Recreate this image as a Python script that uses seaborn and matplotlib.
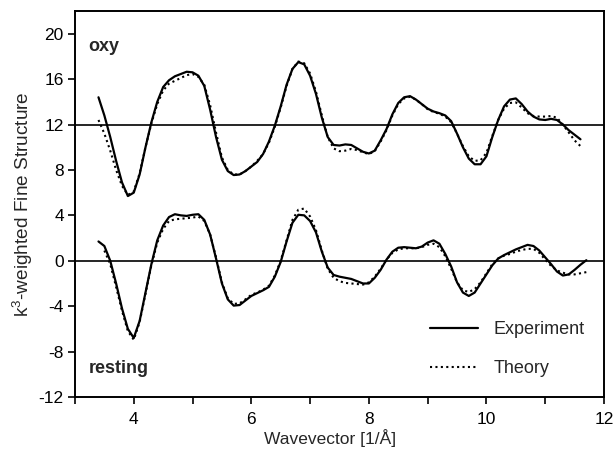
import numpy as np
import pandas as pd
import matplotlib
matplotlib.use("Agg")
import matplotlib.pyplot as plt
import seaborn as sns
from matplotlib.ticker import MultipleLocator

# Wavevector grid (1/Å)
k = [3.4, 3.5, 3.6, 3.7, 3.8, 3.9, 4.0, 4.1, 4.2, 4.3, 4.4, 4.5, 4.6, 4.7,
     4.8, 4.9, 5.0, 5.1, 5.2, 5.3, 5.4, 5.5, 5.6, 5.7, 5.8, 5.9, 6.0, 6.1,
     6.2, 6.3, 6.4, 6.5, 6.6, 6.7, 6.8, 6.9, 7.0, 7.1, 7.2, 7.3, 7.4, 7.5,
     7.6, 7.7, 7.8, 7.9, 8.0, 8.1, 8.2, 8.3, 8.4, 8.5, 8.6, 8.7, 8.8, 8.9,
     9.0, 9.1, 9.2, 9.3, 9.4, 9.5, 9.6, 9.7, 9.8, 9.9, 10.0, 10.1, 10.2,
     10.3, 10.4, 10.5, 10.6, 10.7, 10.8, 10.9, 11.0, 11.1, 11.2, 11.3, 11.4,
     11.5, 11.6, 11.7]

nan = np.nan

# k^3-weighted EXAFS, oxy form (before vertical shift)
oxy_experiment = [
    2.4, 0.8, -1.1, -3.2, -5.1, -6.3, -6.0, -4.4, -2.0, 0.2, 2.0, 3.3, 3.9, 4.25,
    4.45, 4.65, 4.6, 4.3, 3.4, 1.3, -1.1, -3.1, -4.1, -4.45, -4.4, -4.1, -3.7, -3.3,
    -2.6, -1.5, -0.1, 1.6, 3.5, 4.9, 5.5, 5.3, 4.3, 2.7, 0.6, -1.1, -1.8, -1.85,
    -1.75, -1.8, -2.1, -2.4, -2.55, -2.3, -1.4, -0.4, 0.9, 1.9, 2.4, 2.5, 2.2, 1.8,
    1.4, 1.15, 1.0, 0.8, 0.3, -0.8, -2.0, -3.0, -3.5, -3.5, -2.8, -1.1, 0.4,
    1.6, 2.2, 2.3, 1.8, 1.15, 0.7, 0.45, 0.4, 0.5, 0.4, 0.0, -0.5,
    -0.9, -1.3, nan]
oxy_theory = [
    0.4, -0.8, -2.3, -4.0, -5.4, -6.2, -5.9, -4.3, -2.0, 0.1, 1.8, 3.0, 3.6, 3.85,
    4.1, 4.35, 4.45, 4.2, 3.5, 1.7, -0.7, -2.9, -4.0, -4.4, -4.4, -4.1, -3.7, -3.2,
    -2.6, -1.6, -0.2, 1.5, 3.4, 4.9, 5.55, 5.4, 4.5, 2.9, 0.8, -1.1, -2.1, -2.35,
    -2.3, -2.15, -2.25, -2.45, -2.6, -2.35, -1.5, -0.5, 0.8, 1.8, 2.3, 2.45, 2.2, 1.8,
    1.35, 1.1, 0.95, 0.7, 0.2, -0.8, -1.9, -2.8, -3.2, -3.15, -2.5, -1.0, 0.4,
    1.4, 1.9, 1.95, 1.5, 1.0, 0.75, 0.7, 0.7, 0.75, 0.6, 0.0, -0.7,
    -1.4, -1.9, nan]

# resting form
resting_experiment = [
    1.7, 1.3, 0.0, -2.0, -4.2, -6.0, -6.8, -5.3, -2.8, -0.3, 1.8, 3.1, 3.85, 4.1,
    4.0, 3.95, 4.05, 4.1, 3.6, 2.3, 0.2, -2.0, -3.4, -3.95, -3.9, -3.5, -3.1, -2.85,
    -2.6, -2.3, -1.4, -0.1, 1.7, 3.35, 4.05, 4.0, 3.5, 2.5, 0.8, -0.6, -1.25, -1.4,
    -1.5, -1.6, -1.8, -2.0, -2.0, -1.5, -0.8, 0.1, 0.8, 1.15, 1.2, 1.15, 1.1, 1.25,
    1.6, 1.8, 1.5, 0.6, -0.5, -1.9, -2.8, -3.1, -2.8, -2.0, -1.2, -0.4, 0.2,
    0.5, 0.75, 1.0, 1.2, 1.4, 1.3, 0.9, 0.3, -0.3, -0.95, -1.3, -1.2,
    -0.8, -0.35, 0.05]
resting_theory = [
    nan, 0.9, -0.3, -2.3, -4.4, -6.2, -6.95, -5.4, -2.9, -0.4, 1.6, 2.8, 3.5, 3.65,
    3.7, 3.75, 3.8, 3.9, 3.5, 2.3, 0.3, -1.9, -3.3, -3.8, -3.75, -3.4, -3.0, -2.8,
    -2.55, -2.2, -1.3, 0.0, 1.8, 3.6, 4.5, 4.6, 3.9, 2.7, 0.9, -0.7, -1.5, -1.8,
    -1.95, -2.0, -2.05, -2.1, -1.9, -1.4, -0.7, 0.1, 0.7, 1.0, 1.1, 1.1, 1.1, 1.2,
    1.4, 1.5, 1.2, 0.4, -0.7, -1.9, -2.6, -2.75, -2.5, -1.9, -1.1, -0.3, 0.2,
    0.45, 0.6, 0.8, 0.95, 1.05, 1.05, 0.7, 0.1, -0.45, -0.85, -1.05, -1.2,
    -1.2, -1.1, -1.0]

OXY_SHIFT = 12.0

sns.set_style("ticks")
plt.rcParams["font.family"] = ["Liberation Sans", "DejaVu Sans"]
plt.rcParams["mathtext.fontset"] = "custom"
plt.rcParams["mathtext.rm"] = "Liberation Sans"
plt.rcParams["mathtext.it"] = "Liberation Sans"
plt.rcParams["axes.unicode_minus"] = False

fig = plt.figure(figsize=(6.13, 4.49), dpi=100)
ax = fig.add_axes([0.1223, 0.1158, 0.8630, 0.8597])

solid = dict(color="black", lw=1.6, linestyle="-")
dotted = dict(color="black", lw=1.5, linestyle=(0, (1, 1.6)))

kk = np.array(k)
sns.lineplot(x=kk, y=np.array(oxy_theory) + OXY_SHIFT, ax=ax, **dotted)
sns.lineplot(x=kk, y=np.array(oxy_experiment) + OXY_SHIFT, ax=ax, **solid)
sns.lineplot(x=kk, y=np.array(resting_theory), ax=ax, label="Theory", **dotted)
sns.lineplot(x=kk, y=np.array(resting_experiment), ax=ax, label="Experiment", **solid)

# baselines of the two spectra
ax.axhline(OXY_SHIFT, color="black", lw=1.2, zorder=1)
ax.axhline(0, color="black", lw=1.2, zorder=1)

ax.set_xlim(3, 12)
ax.set_ylim(-12, 22)
ax.xaxis.set_minor_locator(MultipleLocator(1))
ax.set_xticks([4, 6, 8, 10, 12])
ax.set_yticks(list(range(-12, 21, 4)))

for s in ax.spines.values():
    s.set_linewidth(1.4)
    s.set_color("black")
ax.tick_params(axis="both", which="both", bottom=True, left=True,
               top=False, right=False, direction="out", length=5, width=1.2,
               color="black", labelcolor="black", labelsize=12.5)
ax.tick_params(axis="y", which="major", pad=3)
ax.tick_params(axis="x", which="major", pad=6)

ax.set_xlabel("Wavevector [1/Å]", fontsize=12.5)
ax.xaxis.set_label_coords(0.483, -0.083)
ax.set_ylabel("k$^3$-weighted Fine Structure", fontsize=13.7, labelpad=3)

ax.text(3.23, 18.9, "oxy", fontsize=13, fontweight="bold", va="center", ha="left")
ax.text(3.23, -9.5, "resting", fontsize=13, fontweight="bold", va="center", ha="left")

handles, labels = ax.get_legend_handles_labels()
order = [labels.index("Experiment"), labels.index("Theory")]
ax.legend([handles[i] for i in order], [labels[i] for i in order],
          loc="center left", bbox_to_anchor=(0.671, 0.124), frameon=False,
          fontsize=13, handlelength=2.65, handletextpad=0.85, labelspacing=1.2,
          borderpad=0, borderaxespad=0)

fig.savefig("out.png", dpi=100)
